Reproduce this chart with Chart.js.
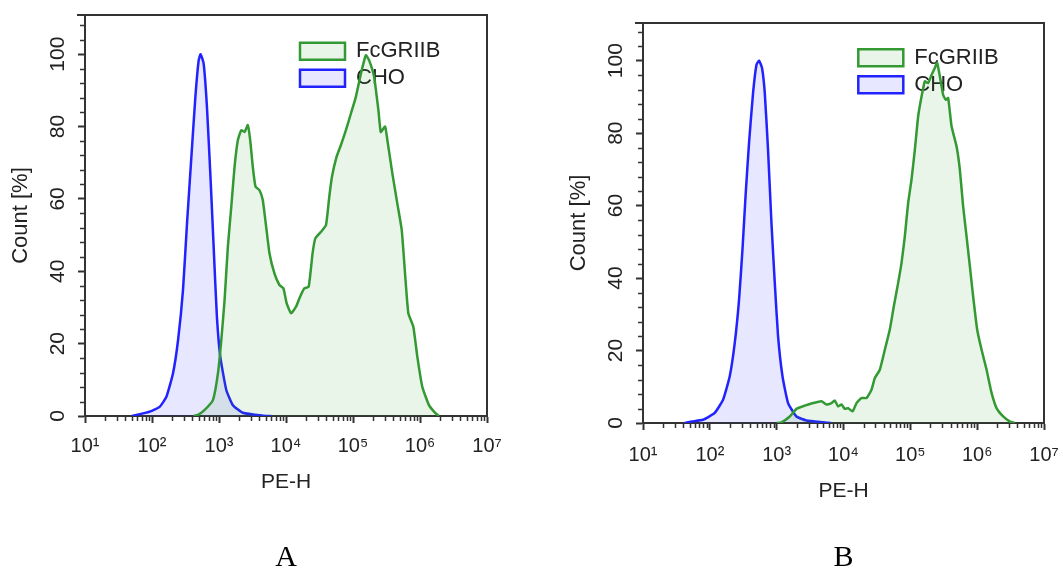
<!DOCTYPE html>
<html>
<head>
<meta charset="utf-8">
<title>FcGRIIB / CHO - PE-H</title>
<script src="https://cdn.jsdelivr.net/npm/chart.js"></script>
<style>
  html, body { margin: 0; padding: 0; background: #fff; overflow: hidden; }
  body { width: 1063px; height: 569px; position: relative; }
  canvas { position: absolute; top: 0; }
  #chartA { left: 0; }
  #chartB { left: 558px; }
</style>
</head>
<body>
<canvas id="chartA" width="530" height="580"></canvas>
<canvas id="chartB" width="530" height="580"></canvas>
<script>
// dados: PE-H (x) e Count % (y)
const fcA_x = [420, 485, 611, 811, 964, 1082, 1211, 1357, 1524, 1708, 1911, 2148, 2404, 2692, 2924, 3193, 3506, 4020, 4500, 5056, 5664, 6718, 7976, 9146, 10240, 11910, 14130, 15820, 18780, 21780, 24950, 27400, 33270, 39540, 44260, 48530, 56800, 66070, 78400, 93100, 110400, 131200, 155600, 174200, 206700, 239500, 260000, 301300, 326000, 387000, 459000, 534000, 598000, 670000, 795000, 912000, 1081000, 1361000, 1713000, 1918000];
const fcA_y = [0, 0.3, 1.7, 4.4, 11.8, 21, 32, 46.8, 57.8, 68.9, 76.2, 79, 78.5, 80.4, 76.2, 68.9, 63.4, 62.4, 59.7, 52.3, 45, 39.4, 36.2, 35.3, 31.1, 28.4, 30.2, 32.5, 35.3, 35.7, 45, 49.1, 50.9, 52.8, 60.6, 66.1, 71.6, 74.9, 79, 83.6, 88.2, 94.6, 99.7, 98.3, 93.7, 84.5, 78.5, 80, 76.2, 67, 58.7, 51.4, 39.4, 28.4, 24.7, 16.4, 8.1, 3, 0.7, 0];

const choA_x = [50, 58.8, 92.7, 131, 164, 206, 245, 290, 333, 387, 444, 497, 532, 590, 661, 750, 840, 931, 1045, 1285, 1611, 2270, 4500, 6000];
const choA_y = [0, 0.3, 1.2, 2.6, 5.3, 11.8, 21, 34.8, 53.2, 71.6, 88.2, 98.3, 100, 97.4, 85.4, 65.2, 45, 27.4, 16.4, 7.2, 3, 0.9, 0.1, 0];

const fcB_x = [1000, 1180, 1571, 1977, 2635, 3508, 4687, 5566, 6610, 7410, 8300, 9330, 10450, 11720, 13640, 15660, 18590, 22090, 26240, 29430, 34940, 41520, 49320, 56630, 65650, 73840, 82740, 92700, 104200, 116800, 130900, 147200, 164900, 184600, 207700, 232800, 251800, 276500, 309700, 339800, 368100, 413900, 491800, 550800, 616600, 693400, 778000, 871000, 1000000, 1164000, 1383000, 1643000, 1951000, 2449000, 3090000, 3665000];
const fcB_y = [0, 0.2, 1.8, 3.9, 4.8, 5.5, 6, 5.1, 5.5, 6.2, 4.6, 5.1, 3.9, 4.1, 3.2, 5.5, 6.9, 6.9, 9.2, 12.4, 14.7, 20.2, 25.8, 32.2, 38.6, 44.2, 51.5, 60.7, 67.2, 75.4, 84.6, 90.1, 94.3, 93.8, 96.1, 98, 99.4, 95.7, 90.6, 89.2, 89.7, 81.9, 76.3, 69.9, 59.8, 51.5, 43.2, 34.9, 25.8, 20.2, 14.7, 8.3, 4.1, 1.8, 0.4, 0];

const choB_x = [42, 53.1, 79.1, 118.4, 157.6, 198.6, 236, 273.5, 307.6, 344.6, 386, 443.4, 498.6, 545.3, 604, 663.7, 743, 835.6, 937.6, 1050, 1222, 1482, 1977, 2793, 4955, 6500];
const choB_y = [0, 0.4, 0.9, 2.8, 6.4, 12.9, 22.1, 34, 47.8, 63.5, 77.3, 91.1, 98.9, 100, 98, 91.1, 75.4, 55.2, 38.6, 23.9, 12.9, 5.5, 1.8, 0.7, 0.2, 0];

const seriesNames = ['FcGRIIB', 'CHO'];
const xTicks = [1e1, 1e2, 1e3, 1e4, 1e5, 1e6, 1e7];
const xTickLabels = ['10\u00b9', '10\u00b2', '10\u00b3', '10\u2074', '10\u2075', '10\u2076', '10\u2077'];
const yTicks = [0, 20, 40, 60, 80, 100];
const panelLabels = ['A', 'B'];

Chart.defaults.font.family = "'Liberation Sans', Arial, sans-serif";

// moldura, ticks menores e posicao da legenda dentro da area do grafico
const moldura = {
    id: 'moldura',
    afterLayout(chart, args, opts) {
        const lg = chart.legend;
        lg.left = opts.legendAt[0];
        lg.top = opts.legendAt[1];
        lg.right = lg.left + lg.width;
        lg.bottom = lg.top + 200;
    },
    afterDraw(chart) {
        const ctx = chart.ctx;
        const a = chart.chartArea;
        const x = chart.scales.x;
        const y = chart.scales.y;
        ctx.save();
        ctx.strokeStyle = '#333';
        ctx.lineWidth = 2;
        ctx.beginPath();
        ctx.moveTo(a.left - 8, a.top);
        ctx.lineTo(a.right, a.top);
        ctx.lineTo(a.right, a.bottom);
        ctx.stroke();

        ctx.lineWidth = 1.5;
        ctx.beginPath();
        for (let e = 1; e < 7; e++) {
            for (let k = 2; k < 10; k++) {
                const px = Math.round(x.getPixelForValue(k * Math.pow(10, e))) + 0.5;
                ctx.moveTo(px, a.bottom);
                ctx.lineTo(px, a.bottom + 5);
            }
        }
        for (let v = 4; v <= y.max; v += 4) {
            if (v % 20 === 0) continue;
            const py = Math.round(y.getPixelForValue(v)) + 0.5;
            ctx.moveTo(a.left - 5, py);
            ctx.lineTo(a.left, py);
        }
        ctx.stroke();
        ctx.restore();
    }
};

function serie(nome, xs, ys, linha, fundo) {
    return {
        label: nome,
        data: xs.map((v, i) => ({ x: v, y: ys[i] })),
        borderColor: linha,
        backgroundColor: fundo,
        borderWidth: 2.5,
        fill: 'origin',
        pointRadius: 0,
        tension: 0.15
    };
}

function criarGrafico(id, p) {
    return new Chart(document.getElementById(id), {
        type: 'line',
        data: {
            datasets: [
                serie(seriesNames[0], p.fcX, p.fcY, '#339933', 'rgba(51,153,51,0.1)'),
                serie(seriesNames[1], p.choX, p.choY, '#2222ff', 'rgba(40,40,255,0.11)')
            ]
        },
        options: {
            responsive: false,
            animation: false,
            devicePixelRatio: 1,
            layout: { padding: { top: p.top, right: p.right, bottom: 4, left: 0 } },
            plugins: {
                legend: {
                    position: 'chartArea',
                    align: 'start',
                    labels: { boxWidth: 45, boxHeight: 17, padding: 5, color: '#222', font: { size: 22 } }
                },
                title: {
                    display: true,
                    text: p.label,
                    position: 'bottom',
                    fullSize: false,
                    padding: 0,
                    color: '#000',
                    font: { family: "'Liberation Serif', 'Times New Roman', serif", size: 30, weight: 'normal' }
                },
                tooltip: { enabled: false },
                moldura: { legendAt: p.legendAt }
            },
            scales: {
                x: {
                    type: 'logarithmic',
                    min: 10,
                    max: 1e7,
                    afterBuildTicks: s => { s.ticks = xTicks.map(v => ({ value: v })); },
                    afterFit: s => { s.height = p.xh; },
                    ticks: {
                        autoSkip: false,
                        maxRotation: 0,
                        padding: p.xpad,
                        color: '#222',
                        font: { size: 20 },
                        callback: (v, i) => xTickLabels[i]
                    },
                    grid: { drawOnChartArea: false, tickLength: 7, tickWidth: 2, tickColor: '#333' },
                    border: { color: '#333', width: 2 },
                    title: { display: true, text: 'PE-H', color: '#222', font: { size: 21 }, padding: { top: 0, bottom: p.titlePad } }
                },
                y: {
                    min: 0,
                    max: p.ymax,
                    afterBuildTicks: s => { s.ticks = yTicks.map(v => ({ value: v })); },
                    afterFit: s => { s.width = 85; },
                    ticks: {
                        minRotation: 90,
                        maxRotation: 90,
                        crossAlign: 'center',
                        padding: 2.5,
                        color: '#222',
                        font: { size: 21 }
                    },
                    grid: { drawOnChartArea: false, tickLength: 7, tickWidth: 2, tickColor: '#333' },
                    border: { color: '#333', width: 2 },
                    title: { display: true, text: 'Count [%]', color: '#222', font: { size: 22 }, padding: { top: 8, bottom: 0 } }
                }
            }
        },
        plugins: [moldura]
    });
}

criarGrafico('chartA', {
    fcX: fcA_x, fcY: fcA_y, choX: choA_x, choY: choA_y, label: panelLabels[0],
    top: 15, right: 43, xh: 124, xpad: 11.5, titlePad: 45, ymax: 110.8, legendAt: [295, 35.2]
});
criarGrafico('chartB', {
    fcX: fcB_x, fcY: fcB_y, choX: choB_x, choY: choB_y, label: panelLabels[1],
    top: 23, right: 44, xh: 117, xpad: 13, titlePad: 36, ymax: 110.4, legendAt: [295.3, 41.8]
});
</script>
</body>
</html>
